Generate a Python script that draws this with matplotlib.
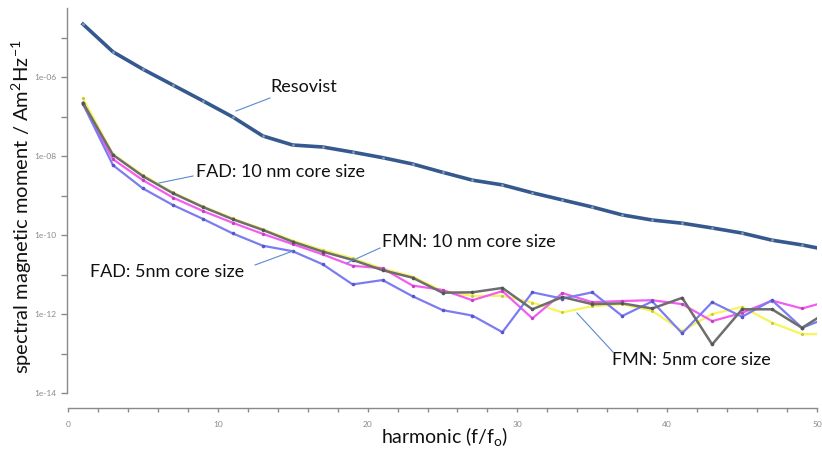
import numpy as np
import matplotlib
matplotlib.use('Agg')
import matplotlib.pyplot as plt
from matplotlib.ticker import FixedLocator, FixedFormatter, NullFormatter

plt.rcParams['font.family'] = ['Lato', 'DejaVu Sans']

# odd harmonics 1..51 (51 lies just beyond the right edge)
harmonic = np.arange(1, 52, 2)

# log10 of spectral magnetic moment
resovist_log = [-4.66, -5.36, -5.80, -6.20, -6.60, -7.01, -7.49, -7.72, -7.77, -7.90,
                -8.04, -8.20, -8.41, -8.61, -8.73, -8.93, -9.11, -9.29, -9.49, -9.62,
                -9.70, -9.82, -9.95, -10.13, -10.25, -10.40]
fad10_log = [-6.65, -7.97, -8.51, -8.94, -9.29, -9.60, -9.87, -10.17, -10.42, -10.63,
             -10.89, -11.08, -11.46, -11.45, -11.34, -11.88, -11.57, -11.75, -11.73, -11.86,
             -11.59, -12.77, -11.88, -11.88, -12.35, -11.87]
fmn10_log = [-6.54, -7.95, -8.48, -8.92, -9.27, -9.58, -9.85, -10.14, -10.38, -10.59,
             -10.85, -11.05, -11.42, -11.54, -11.54, -11.71, -11.96, -11.80, -11.75, -11.92,
             -12.43, -12.00, -11.82, -12.22, -12.51, -12.51]
fmn5_log = [-6.68, -8.08, -8.61, -9.05, -9.39, -9.69, -9.97, -10.23, -10.49, -10.78,
            -10.84, -11.28, -11.39, -11.65, -11.42, -12.11, -11.47, -11.70, -11.67, -11.65,
            -11.75, -12.18, -11.97, -11.66, -11.86, -11.65]
fad5_log = [-6.68, -8.23, -8.82, -9.24, -9.59, -9.96, -10.27, -10.41, -10.74, -11.25,
            -11.14, -11.55, -11.90, -12.04, -12.46, -11.45, -11.61, -11.45, -12.05, -11.68,
            -12.49, -11.70, -12.07, -11.65, -12.35, -12.05]

fig = plt.figure(figsize=(8.22, 4.5), dpi=100)
ax = fig.add_axes([68 / 822, 57 / 450, 749 / 822, 385 / 450])

ax.plot(harmonic, 10 ** np.array(fmn10_log), color='#f7f55a', lw=1.6,
        marker='o', ms=2.2, mfc='#c9c640', mec='none', clip_on=True)
ax.plot(harmonic, 10 ** np.array(fmn5_log), color='#f25df0', lw=1.6,
        marker='o', ms=2.4, mfc='#c040c0', mec='none')
ax.plot(harmonic, 10 ** np.array(fad5_log), color='#7b7cf2', lw=1.6,
        marker='o', ms=2.6, mfc='#5656c8', mec='none')
ax.plot(harmonic, 10 ** np.array(fad10_log), color='#6e6e6e', lw=1.8,
        marker='o', ms=2.6, mfc='#555555', mec='none')
ax.plot(harmonic, 10 ** np.array(resovist_log), color='#35598f', lw=2.6,
        marker='o', ms=2, mfc='#8a9ab5', mec='none')

ax.set_yscale('log')
ax.set_xlim(0, 50)
ax.set_ylim(1e-14, 10 ** -4.25)

# axis styling: only left and bottom, thin gray, bottom pushed down
for s in ['top', 'right']:
    ax.spines[s].set_visible(False)
for s in ['left', 'bottom']:
    ax.spines[s].set_color('#8a8a8a')
    ax.spines[s].set_linewidth(1.0)
ax.spines['bottom'].set_position(('outward', 11))
ax.spines['left'].set_position(('outward', 1))

ax.yaxis.set_major_locator(FixedLocator([1e-14, 1e-12, 1e-10, 1e-8, 1e-6]))
ax.yaxis.set_major_formatter(FixedFormatter(['1e-14', '1e-12', '1e-10', '1e-08', '1e-06']))
ax.yaxis.set_minor_locator(FixedLocator([1e-13, 1e-11, 1e-9, 1e-7, 1e-5]))
ax.yaxis.set_minor_formatter(NullFormatter())
ax.set_xticks([0, 10, 20, 30, 40, 50])
ax.set_xticks(np.arange(0, 51, 2), minor=True)
ax.tick_params(which='both', direction='out', color='#8a8a8a', width=1.0,
               labelsize=6, labelcolor='#8a8a8a')
ax.tick_params(axis='y', which='both', length=4)
ax.tick_params(axis='x', which='both', length=3, pad=6)

fig.text(22 / 822, 1 - 207 / 450, 'spectral magnetic moment / Am$\\mathregular{^2}$Hz$\\mathregular{^{-1}}$',
         rotation=90, ha='center', va='center', fontsize=14.5, color='#111111')
fig.text(445 / 822, 1 - 437 / 450, 'harmonic (f/f$\\mathregular{_o}$)',
         ha='center', va='center', fontsize=14, color='#111111')

# callout labels with thin leader lines
labels = ['Resovist', 'FAD: 10 nm core size', 'FMN: 10 nm core size',
          'FAD: 5nm core size', 'FMN: 5nm core size']
label_xy = [(270, 87), (196, 172), (382, 242), (90, 272), (612, 360)]
leader = [((236, 111), (270, 98)), ((159, 183), (193, 176)), ((347, 263), (380, 248)),
          ((255, 265), (293, 251)), ((577, 313), (613, 352))]
for txt, (tx, ty), ((x0, y0), (x1, y1)) in zip(labels, label_xy, leader):
    fig.text(tx / 822, 1 - ty / 450, txt, ha='left', va='center', fontsize=13, color='#111111')
    fig.add_artist(plt.Line2D([x0 / 822, x1 / 822], [1 - y0 / 450, 1 - y1 / 450],
                              color='#5a8ad0', lw=0.8, transform=fig.transFigure))

fig.savefig('out.png', dpi=100)
